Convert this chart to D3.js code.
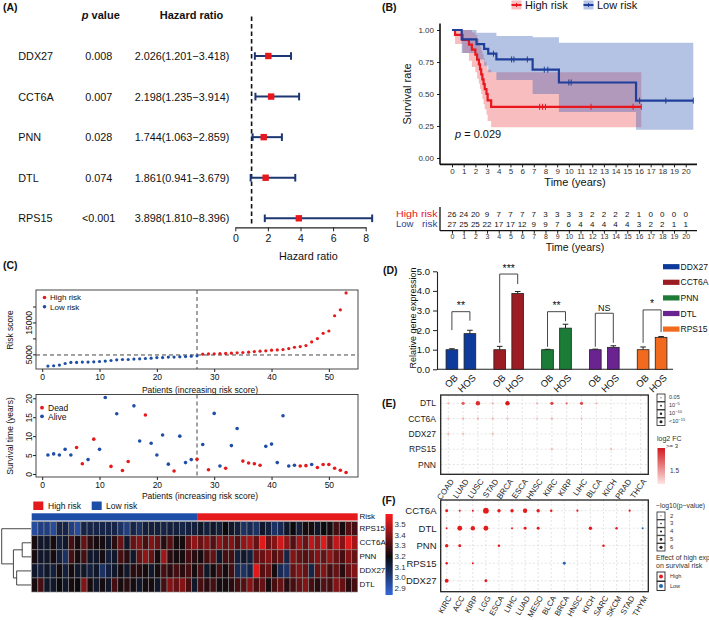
<!DOCTYPE html>
<html><head><meta charset="utf-8">
<script src="https://cdn.jsdelivr.net/npm/d3@7"></script>
<style>body{margin:0;background:#fff}svg{display:block;font-family:"Liberation Sans",Arial,Helvetica,sans-serif}</style>
</head><body><svg id="c" width="709" height="620"></svg>
<script>
// ---------- Panel A data ----------
const forestGenes = ["DDX27","CCT6A","PNN","DTL","RPS15"];
const forestP = ["0.008","0.007","0.028","0.074","<0.001"];
const forestHR = [2.026,2.198,1.744,1.861,3.898];
const forestLo = [1.201,1.235,1.063,0.941,1.810];
const forestHi = [3.418,3.914,2.859,3.679,8.396];
const forestTicks = [0,2,4,6,8];

// ---------- Panel B data ----------
const highT  = [0,0.26,0.9,1.45,1.7,2.0,2.15,2.3,2.4,2.5,2.6,2.7,2.8,2.95,3.05,3.35];
const highS  = [1,0.962,0.923,0.885,0.846,0.808,0.769,0.731,0.692,0.654,0.615,0.577,0.538,0.5,0.45,0.40];
const highUp = [1,1,1,1,0.98,0.96,0.93,0.9,0.87,0.84,0.81,0.78,0.75,0.72,0.69,0.67];
const highLo = [1,0.89,0.82,0.76,0.71,0.67,0.62,0.58,0.54,0.5,0.46,0.42,0.38,0.34,0.29,0.24];
const highEnd = 16.2;
const highCens = [7.5,7.75,8.0,11.9,15.5,16.2];
const lowT  = [0,0.83,2.1,2.75,3.1,3.8,6.9,9.15,15.75];
const lowS  = [1,0.926,0.889,0.852,0.815,0.77,0.69,0.59,0.448];
const lowUp = [1,1,0.979,0.979,0.979,0.953,0.943,0.901,0.901];
const lowLo = [1,0.82,0.77,0.72,0.67,0.61,0.5,0.36,0.22];
const lowEnd = 20.65;
const lowCens = [3.55,5.1,5.3,6.45,7.9,8.2,10.0,10.2,16.05,18.3,20.65];
const kmTicksY = [0,0.25,0.5,0.75,1];
const riskHigh = [26,24,20,9,7,7,7,7,3,3,3,3,2,2,2,2,1,0,0,0,0];
const riskLow  = [27,25,25,22,17,17,12,9,9,7,6,4,4,4,4,4,3,2,2,1,1];

// ---------- Panel C data ----------
const riskScore = [1320,1420,1640,2130,2450,2450,2570,2570,2660,2760,2880,3070,3290,3380,3380,3500,3600,3690,3810,4000,4000,4130,4130,4220,4310,4440,4530,
  5060,5120,5180,5240,5300,5360,5470,5570,5680,5880,5990,6090,6300,6400,6500,6820,7230,7440,7750,8890,9930,11590,12320,17100,18960,24260];
const nLow = 27;
const riskCutoff = 4800;
const survTime = [5.0,5.3,5.0,6.5,5.0,7.0,2.7,3.8,9.2,6.5,20.2,2.0,15.9,0.9,3.3,18.0,8.7,15.6,8.1,5.0,10.3,2.6,0.8,10.0,3.0,3.8,3.9,
  7.8,1.1,16.0,2.1,1.5,7.5,12.0,3.4,2.9,2.7,2.3,7.3,7.9,3.0,15.4,2.1,2.3,2.1,2.2,2.5,1.7,2.5,2.5,1.5,1.0,0.4];
const survDead = [0,0,0,0,0,1,1,0,1,0,0,1,0,1,1,0,0,1,0,0,0,0,1,0,0,0,1,
  0,1,0,0,1,0,0,1,1,1,1,0,0,0,0,0,0,1,1,0,1,1,1,1,1,1];
const heatGenes = ["RPS15","CCT6A","PNN","DDX27","DTL"];
const rpsH = [2.95,3.0,3.0,2.95,3.1,3.1,3.0,2.95,3.1,3.1,3.1,3.1,3.1,3.1,3.05,3.0,3.1,3.05,3.12,3.12,3.12,3.1,3.12,3.12,3.1,3.12,3.12,
  3.15,3.12,3.15,3.12,3.2,3.15,3.12,3.05,3.08,3.05,3.15,3.12,3.05,3.08,3.15,3.2,3.12,3.22,3.22,3.15,3.2,3.22,3.3,3.22,3.32,3.3];
const cctH = [3.22,3.15,3.15,3.22,3.12,3.15,3.3,3.22,3.35,3.25,3.22,3.22,3.15,3.25,3.35,3.15,3.35,3.4,3.3,3.4,3.35,3.25,3.32,3.22,3.22,3.35,3.42,
  3.35,3.4,3.32,3.42,3.35,3.4,3.32,3.42,3.45,3.35,3.55,3.35,3.4,3.52,3.42,3.32,3.45,3.35,3.5,3.42,3.55,3.35,3.5,3.4,3.55,3.45];
const pnnH = [3.22,3.15,3.15,3.22,3.12,3.05,3.3,3.22,3.3,3.15,3.15,3.22,3.12,3.15,3.3,3.25,3.15,3.35,3.42,3.35,3.22,3.45,3.25,3.22,3.22,3.3,3.25,
  3.22,3.3,3.35,3.15,3.3,3.3,3.12,3.15,3.12,3.35,3.35,3.4,3.32,3.35,3.1,3.4,3.35,3.32,3.35,3.4,3.35,3.42,3.35,3.3,3.4,3.35];
const ddxH = [3.15,3.12,3.15,3.12,3.22,3.12,3.22,3.15,3.15,3.12,3.15,3.05,3.12,3.15,3.22,3.15,3.25,3.25,3.22,3.15,3.22,3.3,3.25,3.3,3.25,3.3,3.22,
  3.3,3.15,3.22,3.3,3.22,3.3,3.08,3.05,3.1,3.55,3.32,3.35,3.22,3.08,3.05,3.35,3.4,3.35,3.1,3.35,3.4,3.3,3.35,3.25,3.35,3.4];
const dtlH = [3.22,3.3,3.15,3.15,3.2,3.15,3.22,3.2,3.4,3.22,3.15,3.22,3.15,3.3,3.22,3.25,3.22,3.15,3.22,3.22,3.15,3.3,3.4,3.35,3.4,3.3,3.15,
  3.3,3.25,3.3,3.22,3.22,3.25,3.3,3.32,3.4,3.3,3.35,3.22,3.3,3.35,3.25,3.3,3.35,3.4,3.3,3.25,3.32,3.3,3.4,3.35,3.25,3.3];
const heatTicks = [2.9,3.0,3.1,3.2,3.3,3.4,3.5];
// dendrogram merge heights (relative)
const dendroH = {m1:0.3, m2:0.49, m3:0.6, root:1.0};

// ---------- Panel D data ----------
const dGenes = ["DDX27","CCT6A","PNN","DTL","RPS15"];
const dColors = ["#0d3a9b","#9c1c24","#1b7b37","#6a2391","#f26a1e"];
const obMean = [1,1,1,1,1];
const obErr = [0.05,0.17,0.02,0.03,0.14];
const hosMean = [1.82,3.87,2.1,1.12,1.63];
const hosErr = [0.17,0.1,0.2,0.08,0.04];
const sigLabels = ["**","***","**","NS","*"];
const brTop = [2.94,4.86,2.94,2.86,3.03];
const brLeft = [2.0,1.35,1.15,1.15,1.35];
const brRight = [2.48,4.35,2.45,1.35,1.9];
const dTicks = [0,1,2,3,4,5];

// ---------- Panel E data ----------
const eGenes = ["DTL","CCT6A","DDX27","RPS15","PNN"];
const eCancers = ["COAD","LUAD","LUSC","STAD","BRCA","ESCA","HNSC","KIRC","KIRP","LIHC","BLCA","KICH","PRAD","THCA"];
const eDots = [
  ["DTL","COAD",1.4,0],["DTL","LUAD",2.3,1],["DTL","LUSC",2.8,2],["DTL","STAD",1.4,0],["DTL","BRCA",3.0,2],
  ["DTL","HNSC",1.4,0],["DTL","KIRC",2.6,1],["DTL","KIRP",2.2,0],["DTL","LIHC",2.5,1],["DTL","BLCA",1.3,0],
  ["CCT6A","COAD",1.3,0],["CCT6A","LUAD",1.4,0],["CCT6A","LUSC",1.5,0],["CCT6A","STAD",1.4,0],["CCT6A","BRCA",1.3,0],
  ["CCT6A","HNSC",1.2,0],["CCT6A","KIRC",1.5,0],["CCT6A","LIHC",1.3,0],
  ["DDX27","COAD",1.3,0],["DDX27","LUAD",1.2,0],["DDX27","STAD",1.3,0],
  ["RPS15","KIRC",1.3,0],["RPS15","KICH",1.3,0]
];
const ePLabels = [["0.05",""],["10","−5"],["10","−10"],["<10","−15"]];

// ---------- Panel F data ----------
const fGenes = ["CCT6A","DTL","PNN","RPS15","DDX27"];
const fCancers = ["KIRC","ACC","KIRP","LGG","ESCA","LIHC","LUAD","MESO","BLCA","BRCA","HNSC","KICH","SARC","SKCM","STAD","THYM"];
const fDots = [
  ["CCT6A","KIRC",3,"High"],["CCT6A","ACC",2,"High"],["CCT6A","KIRP",2,"High"],["CCT6A","LGG",6,"High"],["CCT6A","ESCA",3.5,"High"],
  ["CCT6A","LIHC",3.5,"High"],["CCT6A","LUAD",4.5,"High"],["CCT6A","MESO",3.5,"High"],["CCT6A","BLCA",2.5,"High"],["CCT6A","HNSC",2.2,"High"],["CCT6A","STAD",2.2,"High"],
  ["DTL","KIRC",2,"High"],["DTL","ACC",5,"High"],["DTL","KIRP",4.5,"High"],["DTL","LGG",5,"High"],["DTL","LIHC",2,"High"],
  ["DTL","LUAD",3,"High"],["DTL","MESO",3,"High"],["DTL","KICH",3.5,"High"],["DTL","SKCM",2.5,"High"],["DTL","THYM",2,"Low"],
  ["PNN","KIRC",3.5,"High"],["PNN","ACC",3,"High"],["PNN","ESCA",2.5,"High"],["PNN","SARC",2.5,"High"],
  ["RPS15","KIRC",2.5,"High"],["RPS15","KIRP",2,"High"],["RPS15","BRCA",3,"Low"],
  ["DDX27","KIRC",4,"High"],["DDX27","LGG",3,"High"]
];
const fLevels = [2,3,4,5,6];

// ================= drawing =================
const FONT = '"Liberation Sans", Arial, Helvetica, sans-serif';
const RED = "#e8161d", BLUE = "#1f3f9b";
const svg = d3.select("#c");
function T(g, x, y, s, o = {}) {
  const t = g.append("text").attr("x", x).attr("y", y).text(s)
    .attr("font-size", o.size || 9).attr("fill", o.fill || "#111")
    .attr("text-anchor", o.anchor || "start");
  if (o.weight) t.attr("font-weight", o.weight);
  if (o.italic) t.attr("font-style", "italic");
  if (o.base) t.attr("dominant-baseline", o.base);
  if (o.rot != null) t.attr("transform", `rotate(${o.rot},${x},${y})`);
  return t;
}
function L(g, x1, y1, x2, y2, stroke, w, dash) {
  const l = g.append("line").attr("x1", x1).attr("y1", y1).attr("x2", x2).attr("y2", y2)
    .attr("stroke", stroke || "#222").attr("stroke-width", w || 1);
  if (dash) l.attr("stroke-dasharray", dash);
  return l;
}
function styleAxis(ax, size, color) {
  ax.attr("font-family", FONT);
  ax.selectAll("text").attr("font-size", size).attr("fill", color || "#111");
  ax.selectAll("line").attr("stroke", "#222");
}

// ---------- Panel A ----------
{
  const g = svg.append("g");
  T(g, 3, 11, "(A)", {size: 10.5, weight: "bold"});
  const hp = T(g, 100.8, 19, "", {size: 11, weight: "bold", anchor: "middle"});
  hp.append("tspan").attr("font-style", "italic").text("p");
  hp.append("tspan").text(" value");
  T(g, 191.5, 19, "Hazard ratio", {size: 11, weight: "bold", anchor: "middle"});
  const x = d3.scaleLinear().domain([0, 8]).range([235.3, 365.7]);
  const y = d3.scalePoint().domain(forestGenes).range([56, 218.3]);
  L(g, x(1), 16.5, x(1), 226, "#111", 1.6, "4.5,3");
  forestGenes.forEach((gn, i) => {
    const yy = y(gn);
    T(g, 18.3, yy, gn, {size: 10.8, base: "central"});
    T(g, 98.7, yy, forestP[i], {size: 10.8, anchor: "middle", base: "central"});
    T(g, 182, yy, `${forestHR[i].toFixed(3)}(${forestLo[i].toFixed(3)}−${forestHi[i].toFixed(3)})`, {size: 10.8, anchor: "middle", base: "central"});
    L(g, x(forestLo[i]), yy, x(forestHi[i]), yy, "#1c3772", 2);
    [forestLo[i], forestHi[i]].forEach(v => L(g, x(v), yy - 3.8, x(v), yy + 3.8, "#1c3772", 2));
    g.append("rect").attr("x", x(forestHR[i]) - 3.2).attr("y", yy - 3.2).attr("width", 6.4).attr("height", 6.4).attr("fill", RED);
  });
  const ax = g.append("g").attr("transform", "translate(0,227.3)")
    .call(d3.axisBottom(x).tickValues(forestTicks).tickSize(4).tickSizeOuter(0));
  styleAxis(ax, 10.5);
  ax.select(".domain").attr("stroke", "#222").attr("stroke-width", 1.2);
  T(g, 308.3, 260, "Hazard ratio", {size: 10.8, anchor: "middle"});
}

// ---------- Panel B ----------
{
  const g = svg.append("g");
  T(g, 382, 11, "(B)", {size: 10.5, weight: "bold"});
  const x = d3.scaleLinear().domain([0, 20]).range([452, 685.7]);
  const y = d3.scaleLinear().domain([0, 1]).range([158, 30]);
  const bandData = (tt, lo, up, end) => {
    const d = tt.map((t, i) => ({t, lo: lo[i], up: up[i]}));
    d.push({t: end, lo: lo[lo.length - 1], up: up[up.length - 1]});
    return d;
  };
  const area = d3.area().curve(d3.curveStepAfter).x(d => x(d.t)).y0(d => y(d.lo)).y1(d => y(d.up));
  g.append("path").attr("d", area(bandData(highT, highLo, highUp, highEnd))).attr("fill", "#ee5a5f").attr("opacity", 0.4);
  g.append("path").attr("d", area(bandData(lowT, lowLo, lowUp, lowEnd))).attr("fill", "#3a5fb5").attr("opacity", 0.38);
  const line = d3.line().curve(d3.curveStepAfter).x(d => x(d[0])).y(d => y(d[1]));
  const stepD = (tt, ss, end) => { const d = tt.map((t, i) => [t, ss[i]]); d.push([end, ss[ss.length - 1]]); return d; };
  const survAt = (tt, ss, t) => { let v = ss[0]; tt.forEach((ti, i) => { if (ti <= t) v = ss[i]; }); return v; };
  g.append("path").attr("d", line(stepD(highT, highS, highEnd))).attr("fill", "none").attr("stroke", RED).attr("stroke-width", 2.2);
  g.append("path").attr("d", line(stepD(lowT, lowS, lowEnd))).attr("fill", "none").attr("stroke", BLUE).attr("stroke-width", 2.2);
  highCens.forEach(t => { const yy = y(survAt(highT, highS, t)); L(g, x(t), yy - 3, x(t), yy + 3, RED, 1); });
  lowCens.forEach(t => { const yy = y(survAt(lowT, lowS, t)); L(g, x(t), yy - 3, x(t), yy + 3, BLUE, 1); });
  // axes
  const ay = g.append("g").attr("transform", "translate(440,0)")
    .call(d3.axisLeft(y).tickValues(kmTicksY).tickFormat(d3.format(".2f")).tickSize(3).tickSizeOuter(0));
  ay.select(".domain").remove();
  styleAxis(ay, 8, "#333");
  const ax = g.append("g").attr("transform", "translate(0,164.4)")
    .call(d3.axisBottom(x).tickValues(d3.range(0, 21)).tickSize(3).tickSizeOuter(0));
  ax.select(".domain").remove();
  styleAxis(ax, 8, "#333");
  ax.selectAll("text").attr("dy", "0.5em");
  L(g, 440, 23.6, 440, 164.4, "#111", 1.6);
  L(g, 440, 164.4, 697, 164.4, "#111", 1.6);
  T(g, 407, 94, "Survival rate", {size: 11, anchor: "middle", base: "central", rot: -90});
  T(g, 575, 186, "Time (years)", {size: 11, anchor: "middle"});
  const pt = T(g, 455, 138, "", {size: 11});
  pt.append("tspan").attr("font-style", "italic").text("p");
  pt.append("tspan").text(" = 0.029");
  // legend
  [["High risk", RED, "#ee5a5f", 0.4, 511.5], ["Low risk", BLUE, "#3a5fb5", 0.38, 583.5]].forEach(([lab, c, f, op, lx]) => {
    g.append("rect").attr("x", lx).attr("y", 0.5).attr("width", 10).attr("height", 9).attr("fill", f).attr("opacity", op);
    L(g, lx, 5, lx + 10, 5, c, 2);
    L(g, lx + 5, 3, lx + 5, 7, c, 1);
    T(g, lx + 13.5, 5.3, lab, {size: 11, base: "central"});
  });
  // risk table
  riskHigh.forEach((v, i) => T(g, x(i), 217.3, v, {size: 8, anchor: "middle"}));
  riskLow.forEach((v, i) => T(g, x(i), 226.8, v, {size: 8, anchor: "middle"}));
  T(g, 396, 213.9, "High risk", {size: 9, base: "central", fill: RED}).attr("textLength", 41.5).attr("lengthAdjust", "spacingAndGlyphs");
  T(g, 396, 224.1, "Low", {size: 9, base: "central", fill: BLUE}).attr("textLength", 17.5).attr("lengthAdjust", "spacingAndGlyphs");
  T(g, 437.5, 224.1, "risk", {size: 9, anchor: "end", base: "central", fill: BLUE}).attr("textLength", 15.5).attr("lengthAdjust", "spacingAndGlyphs");
  const at = g.append("g").attr("transform", "translate(0,230.7)")
    .call(d3.axisBottom(x).tickValues(d3.range(0, 21)).tickSize(3).tickSizeOuter(0));
  at.select(".domain").remove();
  styleAxis(at, 7, "#333");
  at.selectAll("text").attr("y", 3.5).attr("dy", "0.71em");
  L(g, 440, 207, 440, 230.7, "#111", 1.3);
  L(g, 440, 230.7, 697, 230.7, "#111", 1.3);
  T(g, 575, 251.3, "Time (years)", {size: 10.5, anchor: "middle"});
}

// ---------- Panel C ----------
{
  const g = svg.append("g");
  T(g, 3, 269, "(C)", {size: 10.5, weight: "bold"});
  const n = riskScore.length;
  const x = d3.scaleLinear().domain([-1.08, 55.08]).range([36, 358]);
  const ext = d3.extent(riskScore), pad = (ext[1] - ext[0]) * 0.04;
  const y1 = d3.scaleLinear().domain([ext[0] - pad, ext[1] + pad]).range([369, 290]);
  const y2 = d3.scaleLinear().domain([-0.8, 21.0]).range([477, 394.5]);
  // top: risk score
  g.append("rect").attr("x", 36).attr("y", 290).attr("width", 322).attr("height", 79).attr("fill", "none").attr("stroke", "#333").attr("stroke-width", 0.9);
  L(g, 36, y1(riskCutoff), 358, y1(riskCutoff), "#444", 1, "4,3");
  L(g, x(nLow), 290, x(nLow), 369, "#444", 1, "4,3");
  g.selectAll(".rs").data(riskScore).join("circle").attr("cx", (d, i) => x(i + 1)).attr("cy", d => y1(d))
    .attr("r", 1.6).attr("fill", (d, i) => i < nLow ? "#1f4ea8" : "#e41a1c");
  const axx1 = g.append("g").attr("transform", "translate(0,369)").call(d3.axisBottom(x).tickValues([0, 10, 20, 30, 40, 50]).tickSize(3).tickSizeOuter(0));
  axx1.select(".domain").remove(); styleAxis(axx1, 8.5); axx1.selectAll("text").attr("dy", "0.6em");
  const axy1 = g.append("g").attr("transform", "translate(36,0)").call(d3.axisLeft(y1).tickValues([5000, 10000, 15000, 20000]).tickSize(3).tickFormat(d => (d === 5000 || d === 15000) ? d : ""));
  axy1.select(".domain").remove(); styleAxis(axy1, 8.5);
  axy1.selectAll(".tick text").attr("text-anchor", "middle").attr("x", 0).attr("dy", 0).attr("transform", "translate(-4.5,0) rotate(-90)");
  T(g, 13, 330, "Risk score", {size: 8.5, anchor: "middle", rot: -90});
  T(g, 200, 392.5, "Patients (increasing risk score)", {size: 8.5, anchor: "middle"});
  g.append("circle").attr("cx", 44.5).attr("cy", 297.5).attr("r", 1.8).attr("fill", "#e41a1c");
  T(g, 50, 297.8, "High risk", {size: 8, base: "central"});
  g.append("circle").attr("cx", 44.5).attr("cy", 306.8).attr("r", 1.8).attr("fill", "#1f4ea8");
  T(g, 50, 307.1, "Low risk", {size: 8, base: "central"});
  // middle: survival time
  g.append("rect").attr("x", 36).attr("y", 394.5).attr("width", 322).attr("height", 82.5).attr("fill", "none").attr("stroke", "#333").attr("stroke-width", 0.9);
  L(g, x(nLow), 394.5, x(nLow), 477, "#444", 1, "4,3");
  g.selectAll(".st").data(survTime).join("circle").attr("cx", (d, i) => x(i + 1)).attr("cy", d => y2(d))
    .attr("r", 1.8).attr("fill", (d, i) => survDead[i] ? "#e41a1c" : "#1f4ea8");
  const axx2 = g.append("g").attr("transform", "translate(0,477)").call(d3.axisBottom(x).tickValues([0, 10, 20, 30, 40, 50]).tickSize(3).tickSizeOuter(0));
  axx2.select(".domain").remove(); styleAxis(axx2, 8.5); axx2.selectAll("text").attr("dy", "0.6em");
  const axy2 = g.append("g").attr("transform", "translate(36,0)").call(d3.axisLeft(y2).tickValues([0, 5, 10, 15, 20]).tickSize(3));
  axy2.select(".domain").remove(); styleAxis(axy2, 8.5);
  axy2.selectAll(".tick text").attr("text-anchor", "middle").attr("x", 0).attr("dy", 0).attr("transform", "translate(-4.5,0) rotate(-90)");
  T(g, 13, 436, "Survival time (years)", {size: 8.5, anchor: "middle", rot: -90});
  T(g, 200, 499, "Patients (increasing risk score)", {size: 8.5, anchor: "middle"});
  g.append("circle").attr("cx", 42).attr("cy", 407.7).attr("r", 1.9).attr("fill", "#e41a1c");
  T(g, 48, 408, "Dead", {size: 8.5, base: "central"});
  g.append("circle").attr("cx", 42).attr("cy", 416.3).attr("r", 1.9).attr("fill", "#1f4ea8");
  T(g, 48, 416.6, "Alive", {size: 8.5, base: "central"});
  // heatmap
  g.append("rect").attr("x", 33.3).attr("y", 501.5).attr("width", 10).attr("height", 8.5).attr("fill", "#e41a1c");
  T(g, 48, 506, "High risk", {size: 8.5, base: "central"});
  g.append("rect").attr("x", 91.7).attr("y", 501.5).attr("width", 10).attr("height", 8.5).attr("fill", "#1f4ea8");
  T(g, 106, 506, "Low risk", {size: 8.5, base: "central"});
  const hx = d3.scaleBand().domain(d3.range(n)).range([31.7, 357.7]);
  const hy = d3.scaleBand().domain(heatGenes).range([521.7, 592]);
  const heatVals = {RPS15: rpsH, CCT6A: cctH, PNN: pnnH, DDX27: ddxH, DTL: dtlH};
  const col = d3.scaleLinear().domain([2.85, 3.2, 3.6]).range(["#3366d6", "#0a0a0e", "#ff1c1c"]).clamp(true);
  g.append("rect").attr("x", hx(0)).attr("y", 513.3).attr("width", hx.bandwidth() * nLow).attr("height", 7.2).attr("fill", "#1f4ea8");
  g.append("rect").attr("x", hx(nLow)).attr("y", 513.3).attr("width", hx.bandwidth() * (n - nLow)).attr("height", 7.2).attr("fill", "#e41a1c");
  heatGenes.forEach(gn => {
    heatVals[gn].forEach((v, i) => {
      g.append("rect").attr("x", hx(i)).attr("y", hy(gn)).attr("width", hx.bandwidth()).attr("height", hy.bandwidth())
        .attr("fill", col(v)).attr("stroke", "#8a8a8a").attr("stroke-width", 0.6);
    });
    T(g, 359.5, hy(gn) + hy.bandwidth() / 2, gn, {size: 8, base: "central"});
  });
  T(g, 359.5, 516.9, "Risk", {size: 8, base: "central"});
  // dendrogram
  const dx = h => 31 - h * 29.3;
  const cy = gn => hy(gn) + hy.bandwidth() / 2;
  const m1y = (cy("CCT6A") + cy("PNN")) / 2, m2y = (cy("DDX27") + cy("DTL")) / 2, m3y = (m1y + m2y) / 2;
  const dc = "#333", dw = 0.9;
  L(g, dx(dendroH.m1), cy("CCT6A"), 31, cy("CCT6A"), dc, dw); L(g, dx(dendroH.m1), cy("PNN"), 31, cy("PNN"), dc, dw);
  L(g, dx(dendroH.m1), cy("CCT6A"), dx(dendroH.m1), cy("PNN"), dc, dw);
  L(g, dx(dendroH.m2), cy("DDX27"), 31, cy("DDX27"), dc, dw); L(g, dx(dendroH.m2), cy("DTL"), 31, cy("DTL"), dc, dw);
  L(g, dx(dendroH.m2), cy("DDX27"), dx(dendroH.m2), cy("DTL"), dc, dw);
  L(g, dx(dendroH.m3), m1y, dx(dendroH.m1), m1y, dc, dw); L(g, dx(dendroH.m3), m2y, dx(dendroH.m2), m2y, dc, dw);
  L(g, dx(dendroH.m3), m1y, dx(dendroH.m3), m2y, dc, dw);
  L(g, dx(dendroH.root), cy("RPS15"), 31, cy("RPS15"), dc, dw); L(g, dx(dendroH.root), m3y, dx(dendroH.m3), m3y, dc, dw);
  L(g, dx(dendroH.root), cy("RPS15"), dx(dendroH.root), m3y, dc, dw);
  // color legend
  const ly = d3.scaleLinear().domain([2.84, 3.6]).range([595, 514]);
  const gid = "hgrad";
  const grad = svg.append("defs").append("linearGradient").attr("id", gid).attr("x1", 0).attr("x2", 0).attr("y1", 1).attr("y2", 0);
  d3.range(2.84, 3.61, 0.04).forEach(v => grad.append("stop").attr("offset", (v - 2.84) / 0.76).attr("stop-color", col(v)));
  g.append("rect").attr("x", 385.5).attr("y", 514).attr("width", 7.2).attr("height", 81).attr("fill", `url(#${gid})`);
  heatTicks.forEach(v => T(g, 394.5, ly(v), v.toFixed(1), {size: 8, base: "central", fill: "#333"}));
}

// ---------- Panel D ----------
{
  const g = svg.append("g");
  T(g, 383, 274, "(D)", {size: 10.5, weight: "bold"});
  const y = d3.scaleLinear().domain([0, 5]).range([369.3, 271.3]);
  const gx = d3.scaleBand().domain(dGenes).range([437, 676]);
  const bw = 11.7, off = 9;
  const ay = g.append("g").attr("transform", "translate(437,0)").call(d3.axisLeft(y).tickValues(dTicks).tickSize(4).tickSizeOuter(0));
  styleAxis(ay, 9.5); ay.select(".domain").attr("stroke", "#222").attr("stroke-width", 1.1);
  L(g, 437, 369.3, 673, 369.3, "#222", 1.1);
  T(g, 413, 318, "Relative gene expression", {size: 9, anchor: "middle", base: "central", rot: -90});
  dGenes.forEach((gn, i) => {
    const c = gx(gn) + gx.bandwidth() / 2;
    [[c - off, obMean[i], obErr[i], "OB"], [c + off, hosMean[i], hosErr[i], "HOS"]].forEach(([cx, m, e, lab]) => {
      L(g, cx, y(m), cx, y(m + e), "#222", 1);
      L(g, cx - 2.8, y(m + e), cx + 2.8, y(m + e), "#222", 1);
      g.append("rect").attr("x", cx - bw / 2).attr("y", y(m)).attr("width", bw).attr("height", y(0) - y(m))
        .attr("fill", dColors[i]).attr("stroke", "#222").attr("stroke-width", 0.8);
      const tx = cx + 4, ty = 376;
      T(g, tx, ty, lab, {size: 9.5, anchor: "end", base: "central"}).attr("transform", `rotate(-45,${tx},${ty})`);
    });
    const xl = c - off, xr = c + off;
    L(g, xl, y(brTop[i]), xr, y(brTop[i]), "#333", 0.9);
    L(g, xl, y(brTop[i]), xl, y(brLeft[i]), "#333", 0.9);
    L(g, xr, y(brTop[i]), xr, y(brRight[i]), "#333", 0.9);
    T(g, c, y(brTop[i]) - 2.5, sigLabels[i], {size: sigLabels[i] === "NS" ? 9 : 10.5, anchor: "middle"});
    const ly = 266.7 + i * 15.6;
    g.append("rect").attr("x", 663).attr("y", ly - 2.6).attr("width", 16.5).attr("height", 5.2).attr("fill", dColors[i]);
    T(g, 680.5, ly, gn, {size: 8.5, base: "central"});
  });
}

// ---------- Panel E ----------
{
  const g = svg.append("g");
  T(g, 382, 407, "(E)", {size: 10.5, weight: "bold"});
  const x = d3.scalePoint().domain(eCancers).range([448.3, 640.7]);
  const y = d3.scalePoint().domain(eGenes).range([403.3, 464.5]);
  eCancers.forEach(c => L(g, x(c), 395, x(c), 474.3, "#d2d2d2", 0.6, "2,2"));
  eGenes.forEach(gn => L(g, 440.7, y(gn), 648.3, y(gn), "#d2d2d2", 0.6, "2,2"));
  const fc = d3.scaleLinear().domain([1, 3]).range(["#fbd3d0", "#d7191c"]).clamp(true);
  const rr = [1.1, 1.6, 2.2, 2.8];
  eDots.forEach(([gn, c, v, p]) => g.append("circle").attr("cx", x(c)).attr("cy", y(gn)).attr("r", rr[p]).attr("fill", fc(v)));
  g.append("rect").attr("x", 440.7).attr("y", 395).attr("width", 207.6).attr("height", 79.3).attr("fill", "none").attr("stroke", "#222").attr("stroke-width", 1.3);
  eGenes.forEach(gn => T(g, 436, y(gn), gn, {size: 8.5, anchor: "end", base: "central", fill: "#222"}));
  eCancers.forEach(c => { const tx = x(c) + 4, ty = 480; T(g, tx, ty, c, {size: 8, anchor: "end", base: "central", fill: "#222"}).attr("transform", `rotate(-55,${tx},${ty})`); });
  // legends
  ePLabels.forEach(([a, b], i) => {
    const by = 394 + i * 8;
    g.append("rect").attr("x", 657).attr("y", by).attr("width", 8).attr("height", 7.5).attr("fill", "#fff").attr("stroke", "#222").attr("stroke-width", 0.8);
    g.append("circle").attr("cx", 661).attr("cy", by + 3.75).attr("r", rr[i] * 0.55).attr("fill", "#222");
    const t = T(g, 669, by + 5, a, {size: 5.5, fill: "#333"});
    if (b) t.append("tspan").attr("dy", -2.2).attr("font-size", 4).text(b);
  });
  T(g, 657, 441, "log2 FC", {size: 7, fill: "#333"});
  T(g, 666, 447.5, ">= 3", {size: 6, fill: "#333"});
  const grad = svg.append("defs").append("linearGradient").attr("id", "fcgrad").attr("x1", 0).attr("x2", 0).attr("y1", 0).attr("y2", 1);
  grad.append("stop").attr("offset", 0).attr("stop-color", "#d11a1f");
  grad.append("stop").attr("offset", 1).attr("stop-color", "#fde4e3");
  g.append("rect").attr("x", 657.5).attr("y", 448).attr("width", 7.5).attr("height", 36).attr("fill", "url(#fcgrad)");
  T(g, 670, 472.5, "1.5", {size: 6.5, fill: "#333"});
}

// ---------- Panel F ----------
{
  const g = svg.append("g");
  T(g, 382, 504, "(F)", {size: 10.5, weight: "bold"});
  const x = d3.scalePoint().domain(fCancers).range([446.7, 642.7]);
  const y = d3.scalePoint().domain(fGenes).range([510.7, 580.7]);
  fCancers.forEach(c => L(g, x(c), 500, x(c), 591.7, "#d2d2d2", 0.6, "2,2"));
  fGenes.forEach(gn => L(g, 440.7, y(gn), 648.3, y(gn), "#d2d2d2", 0.6, "2,2"));
  const r = d3.scaleLinear().domain([2, 6]).range([1.0, 2.9]);
  fDots.forEach(([gn, c, v, e]) => g.append("circle").attr("cx", x(c)).attr("cy", y(gn)).attr("r", r(v))
    .attr("fill", e === "High" ? "#e41a1c" : "#2166ac"));
  g.append("rect").attr("x", 440.7).attr("y", 500).attr("width", 207.6).attr("height", 91.7).attr("fill", "none").attr("stroke", "#222").attr("stroke-width", 1.3);
  fGenes.forEach(gn => T(g, 436.5, y(gn), gn, {size: 9.5, anchor: "end", base: "central", fill: "#222"}));
  fCancers.forEach(c => { const tx = x(c) + 3, ty = 596.5; T(g, tx, ty, c, {size: 7.8, anchor: "end", base: "central", fill: "#222"}).attr("transform", `rotate(-60,${tx},${ty})`); });
  T(g, 656, 508, "−log10(p−value)", {size: 6.8, fill: "#333"});
  fLevels.forEach((v, i) => {
    const by = 512 + i * 7.9;
    g.append("rect").attr("x", 657).attr("y", by).attr("width", 8).attr("height", 7.4).attr("fill", "#fff").attr("stroke", "#222").attr("stroke-width", 0.8);
    g.append("circle").attr("cx", 661).attr("cy", by + 3.7).attr("r", r(v) * 0.55).attr("fill", "#222");
    T(g, 670, by + 5.5, v, {size: 6, fill: "#333"});
  });
  T(g, 656, 560, "Effect of high exp", {size: 7, fill: "#333"});
  T(g, 656, 567.5, "on survival risk", {size: 7, fill: "#333"});
  [["High", "#e41a1c"], ["Low", "#2166ac"]].forEach(([lab, c], i) => {
    const by = 572 + i * 9.5;
    g.append("rect").attr("x", 657).attr("y", by).attr("width", 8).attr("height", 9).attr("fill", "#fff").attr("stroke", "#222").attr("stroke-width", 0.9);
    g.append("circle").attr("cx", 661).attr("cy", by + 4.5).attr("r", 2).attr("fill", c);
    T(g, 670, by + 6, lab, {size: 5.5, fill: "#333"});
  });
}
</script></body></html>
